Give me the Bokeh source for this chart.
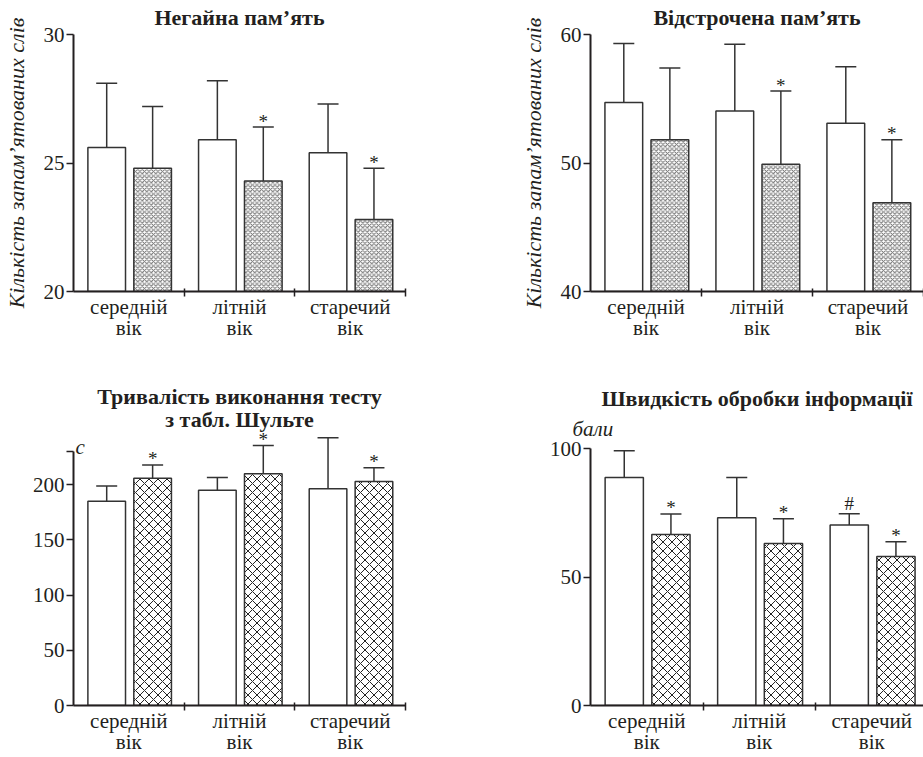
from bokeh.plotting import figure
from bokeh.models import ColumnDataSource, Whisker, TeeHead, FixedTicker, Title, Label, Range1d
from bokeh.layouts import column, row
from bokeh.embed import file_html
from bokeh.resources import INLINE

FONT = "Liberation Serif"
INK = "#231f20"

# ---------------- data ----------------
age_groups = ["середній\nвік", "літній\nвік", "старечий\nвік"]

immediate_ctrl = [25.6, 25.9, 25.4]
immediate_ctrl_err = [2.5, 2.3, 1.9]
immediate_exp = [24.8, 24.3, 22.8]
immediate_exp_err = [2.4, 2.1, 2.0]
immediate_ctrl_marks = ["", "", ""]
immediate_exp_marks = ["", "*", "*"]

delayed_ctrl = [54.7, 54.05, 53.1]
delayed_ctrl_err = [4.6, 5.2, 4.4]
delayed_exp = [51.8, 49.9, 46.9]
delayed_exp_err = [5.6, 5.7, 4.9]
delayed_ctrl_marks = ["", "", ""]
delayed_exp_marks = ["", "*", "*"]

schulte_ctrl = [185.0, 195.0, 196.5]
schulte_ctrl_err = [14.0, 11.5, 46.0]
schulte_exp = [206.0, 210.0, 203.0]
schulte_exp_err = [12.0, 25.5, 12.5]
schulte_ctrl_marks = ["", "", ""]
schulte_exp_marks = ["*", "*", "*"]

speed_ctrl = [88.8, 73.1, 70.3]
speed_ctrl_err = [10.4, 15.7, 4.4]
speed_exp = [66.6, 63.1, 58.0]
speed_exp_err = [8.0, 9.6, 5.8]
speed_ctrl_marks = ["", "", "#"]
speed_exp_marks = ["*", "*", "*"]

immediate_ticks = [20, 25, 30]
delayed_ticks = [40, 50, 60]
schulte_ticks = [0, 50, 100, 150, 200]
speed_ticks = [0, 50, 100]

titles = {
    "immediate": ["Негайна пам’ять"],
    "delayed": ["Відстрочена пам’ять"],
    "schulte": ["Тривалість виконання тесту", "з табл. Шульте"],
    "speed": ["Швидкість обробки інформації"],
}
y_label_words = "Кількість запам’ятованих слів"
unit_seconds = "с"
unit_points = "бали"


def panel(ctrl, ctrl_err, exp, exp_err, ctrl_marks, exp_marks, *, width, height,
          mb_left, mb_right, mb_top, mb_bottom, y_start, y_end, x_end, yticks,
          hatch_scale, hatch_color, y_label=None, y_bounds=None, y_minor=None):
    p = figure(width=width, height=height, output_backend="svg", toolbar_location=None,
               x_range=Range1d(0, x_end), y_range=Range1d(y_start, y_end),
               min_border_left=mb_left, min_border_right=mb_right,
               min_border_top=mb_top, min_border_bottom=mb_bottom)
    p.outline_line_color = None
    p.grid.visible = False
    p.background_fill_color = "white"
    p.border_fill_color = "white"

    n = len(ctrl)
    xc = [i + 0.30 for i in range(n)]
    xe = [i + 0.715 for i in range(n)]

    def src(xs, vals, errs, marks):
        return ColumnDataSource(dict(
            x=xs, top=vals,
            upper=[v + e for v, e in zip(vals, errs)],
            lower=[v - e for v, e in zip(vals, errs)],
            marks=marks,
            moff=[-6 if m == "*" else -10 for m in marks]))

    sc = src(xc, ctrl, ctrl_err, ctrl_marks)
    se = src(xe, exp, exp_err, exp_marks)
    p.vbar(x="x", top="top", bottom=y_start, width=0.34, source=sc,
           fill_color="white", line_color="#333333", line_width=1.5)
    p.vbar(x="x", top="top", bottom=y_start, width=0.34, source=se,
           fill_color="white", line_color="#333333", line_width=1.5,
           hatch_pattern="diagonal_cross", hatch_scale=hatch_scale,
           hatch_color=hatch_color, hatch_weight=1)
    for s in (sc, se):
        w = Whisker(source=s, base="x", upper="upper", lower="lower",
                    line_color="#333333", line_width=1.5,
                    upper_head=TeeHead(size=21, line_color="#333333", line_width=1.5),
                    lower_head=TeeHead(size=21, line_color="#333333", line_width=1.5))
        p.add_layout(w)
        p.text(x="x", y="upper", text="marks", source=s, text_align="center",
               text_baseline="alphabetic", y_offset="moff", text_font=FONT,
               text_font_size="19px", text_color=INK)

    # x axis: labels at group centres, separator ticks at group boundaries
    xa = p.xaxis[0]
    xa.ticker = FixedTicker(ticks=[i + 0.5 for i in range(n)], minor_ticks=[1, 2, 3])
    xa.major_label_overrides = {i + 0.5: age_groups[i] for i in range(n)}
    xa.major_tick_out = 0
    xa.major_tick_in = 0
    xa.minor_tick_out = 5
    xa.minor_tick_in = 3
    xa.minor_tick_line_color = INK
    xa.minor_tick_line_width = 1.5
    xa.axis_line_color = INK
    xa.axis_line_width = 2
    xa.major_label_text_font = FONT
    xa.major_label_text_font_size = "21px"
    xa.major_label_text_color = INK
    xa.major_label_text_line_height = 0.9
    xa.major_label_standoff = -2

    ya = p.yaxis[0]
    ya.ticker = FixedTicker(ticks=yticks, minor_ticks=y_minor or [])
    ya.major_tick_out = 7
    ya.major_tick_in = 0
    ya.minor_tick_out = 7 if y_minor else 0
    ya.minor_tick_in = 0
    ya.minor_tick_line_color = INK
    ya.minor_tick_line_width = 1.5
    ya.major_tick_line_color = INK
    ya.major_tick_line_width = 1.5
    ya.axis_line_color = INK
    ya.axis_line_width = 2
    ya.major_label_text_font = FONT
    ya.major_label_text_font_size = "21px"
    ya.major_label_text_color = INK
    ya.major_label_standoff = 2
    if y_bounds is not None:
        ya.bounds = y_bounds
    if y_label:
        ya.axis_label = y_label
        ya.axis_label_text_font = FONT
        ya.axis_label_text_font_style = "italic"
        ya.axis_label_text_font_size = "22px"
        ya.axis_label_text_color = INK
        ya.axis_label_standoff = 12
    return p


def add_title(p, text, standoff, style="bold", size="22px", align="center", offset=0,
              valign="bottom"):
    p.add_layout(Title(text=text, align=align, offset=offset, standoff=standoff,
                       vertical_align=valign, text_font=FONT, text_font_style=style,
                       text_font_size=size, text_color=INK), "above")


def add_label(p, text, x, y, y_offset, style="bold", size="22px", align="center", x_offset=0):
    p.add_layout(Label(x=x, y=y, x_offset=x_offset, y_offset=y_offset, text=text,
                       text_align=align, text_baseline="alphabetic", text_font=FONT,
                       text_font_style=style, text_font_size=size, text_color=INK))


# top-left: immediate recall
p1 = panel(immediate_ctrl, immediate_ctrl_err, immediate_exp, immediate_exp_err,
           immediate_ctrl_marks, immediate_exp_marks,
           width=460, height=375, mb_left=72, mb_right=55, mb_top=34, mb_bottom=84,
           y_start=20, y_end=30, x_end=3, yticks=immediate_ticks,
           hatch_scale=4.5, hatch_color="#6e6e6e", y_label=y_label_words)
add_title(p1, titles["immediate"][0], 5, valign="top")

# top-right: delayed recall
p2 = panel(delayed_ctrl, delayed_ctrl_err, delayed_exp, delayed_exp_err,
           delayed_ctrl_marks, delayed_exp_marks,
           width=463, height=375, mb_left=130, mb_right=0, mb_top=34, mb_bottom=84,
           y_start=40, y_end=60, x_end=3, yticks=delayed_ticks,
           hatch_scale=4.5, hatch_color="#6e6e6e", y_label=y_label_words)
add_title(p2, titles["delayed"][0], 5, valign="top")

# bottom-left: Schulte test duration
p3 = panel(schulte_ctrl, schulte_ctrl_err, schulte_exp, schulte_exp_err,
           schulte_ctrl_marks, schulte_exp_marks,
           width=460, height=382, mb_left=72, mb_right=55, mb_top=2, mb_bottom=52,
           y_start=0, y_end=297.2, x_end=3, yticks=schulte_ticks,
           hatch_scale=9, hatch_color="#222222", y_bounds=(0, 230), y_minor=[230])
add_label(p3, titles["schulte"][0], 1.5, 230, 55)
add_label(p3, titles["schulte"][1], 1.5, 230, 32)
add_label(p3, unit_seconds, 0, 230, 5, style="italic", size="21px", align="left", x_offset=2)

# bottom-right: information processing speed
p4 = panel(speed_ctrl, speed_ctrl_err, speed_exp, speed_exp_err,
           speed_ctrl_marks, speed_exp_marks,
           width=463, height=382, mb_left=130, mb_right=0, mb_top=65, mb_bottom=52,
           y_start=0, y_end=103.2, x_end=2.96, yticks=speed_ticks,
           hatch_scale=9, hatch_color="#222222", y_bounds=(0, 100))
add_title(p4, unit_points, 0, style="italic", size="21px", align="left", offset=-18)
add_title(p4, titles["speed"][0], 8)

layout = row(column(p1, p3), column(p2, p4))

open("out.html", "w").write(file_html(layout, INLINE))
